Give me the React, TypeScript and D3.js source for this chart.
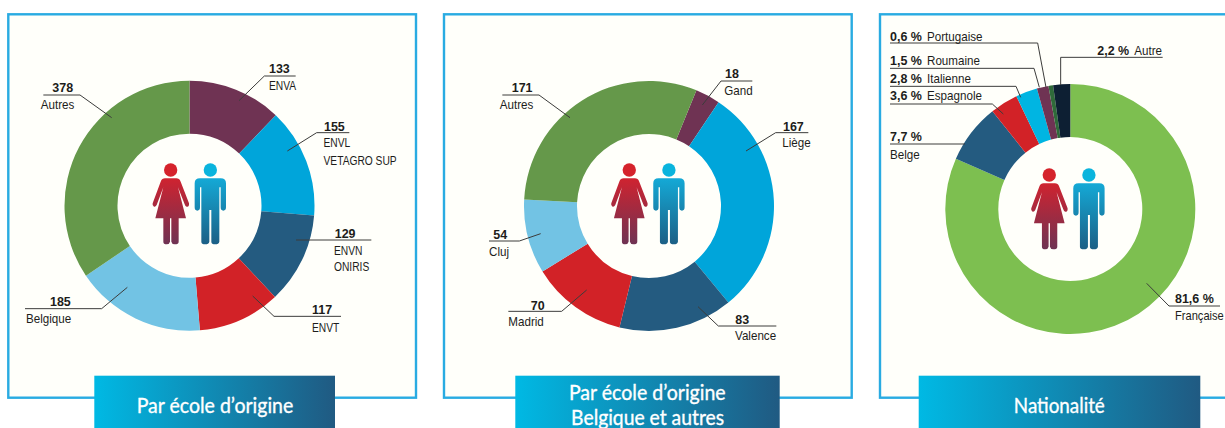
import React from "react";
import * as d3 from "d3";

// ---- data ----
const schoolNames = ["ENVA", "ENVL\nVETAGRO SUP", "ENVN\nONIRIS", "ENVT", "Belgique", "Autres"];
const schoolValues = [133, 155, 129, 117, 185, 378];

const belgiumNames = ["Gand", "Liège", "Valence", "Madrid", "Cluj", "Autres"];
const belgiumValues = [18, 167, 83, 70, 54, 171];

const nationalityNames = ["Française", "Belge", "Espagnole", "Italienne", "Roumaine", "Portugaise", "Autre"];
const nationalityValues = [81.6, 7.7, 3.6, 2.8, 1.5, 0.6, 2.2];

// ---- styles ----
const schoolColors = ["#6f3353", "#00a5da", "#245b80", "#d22227", "#72c3e4", "#65984a"];
const belgiumColors = ["#6f3353", "#00a5da", "#245b80", "#d22227", "#72c3e4", "#65984a"];
const nationalityColors = ["#7dbf50", "#245b80", "#d22227", "#00b5e2", "#6f3353", "#2f6a3a", "#0d1f33"];

const FRAME = "#29abe2";
const PANEL_BG = "#fffffa";
const INK = "#1d1d1b";
const LABEL_FONT = "'Liberation Sans', Arial, sans-serif";
const NUM_FONT = "'Liberation Sans', Arial, sans-serif";
const TITLE_FONT = "Lato, 'Open Sans', sans-serif";
const NARROW_CAPS = 0.82;
const NARROW_MIXED = 0.93;

type Callout = {
  leader: [number, number][];
  numX: number; numY: number;
  nameX: number; nameY: number; lineH?: number; nameScale?: number;
};

const z = (ox: number, pts: [number, number][]): [number, number][] =>
  pts.map(([x, y]) => [ox + x / 3, y / 3]);

const schoolCallouts: Callout[] = [
  { leader: z(0, [[887, 228], [793, 228], [717, 302]]), numX: 269, numY: 73.3, nameX: 269, nameY: 90 },
  { leader: z(0, [[1048, 398], [950, 398], [862, 453]]), numX: 324, numY: 130.7, nameX: 323.5, nameY: 147.3, lineH: 17.7 },
  { leader: z(0, [[1114, 720], [888, 720]]), numX: 334.7, numY: 238, nameX: 334, nameY: 255, lineH: 16.3 },
  { leader: z(0, [[1023, 949], [822, 949], [758, 888]]), numX: 312, numY: 313.7, nameX: 312, nameY: 331.7 },
  { leader: z(0, [[75, 926], [305, 926], [382, 862]]), numX: 50, numY: 305.7, nameX: 26, nameY: 323 },
  { leader: z(0, [[130, 285], [240, 285], [335, 353]]), numX: 52.3, numY: 92.3, nameX: 40.7, nameY: 109 },
];

const belgiumCallouts: Callout[] = [
  { leader: z(440, [[937, 243], [843, 243], [787, 315]]), numX: 725, numY: 78.3, nameX: 724.3, nameY: 95 },
  { leader: z(440, [[1105, 398], [1007, 398], [918, 453]]), numX: 783, numY: 130.7, nameX: 782.3, nameY: 147.3 },
  { leader: z(440, [[1009, 978], [835, 978], [774, 920]]), numX: 735.3, numY: 323.7, nameX: 735, nameY: 340 },
  { leader: z(440, [[205, 934], [365, 934], [440, 870]]), numX: 530.7, numY: 309.7, nameX: 508.3, nameY: 326 },
  { leader: z(440, [[147, 723], [238, 723], [302, 701]]), numX: 493.3, numY: 239.3, nameX: 489, nameY: 256 },
  { leader: z(440, [[187, 285], [297, 285], [390, 353]]), numX: 511.7, numY: 92.3, nameX: 499.7, nameY: 109 },
];

const nationalityCallouts: Callout[] = [
  { leader: z(870, [[1050, 918], [897, 918], [830, 850]]), numX: 1175, numY: 303.3, nameX: 1175, nameY: 320, nameScale: 0.89 },
  { leader: z(870, [[60, 432], [285, 432]]), numX: 890, numY: 141, nameX: 890, nameY: 158.7 },
  { leader: z(870, [[60, 312], [367, 312], [400, 342]]), numX: 890, numY: 100, nameX: 927, nameY: 100 },
  { leader: z(870, [[60, 259], [438, 259], [452, 292]]), numX: 890, numY: 83.3, nameX: 927, nameY: 83.3 },
  { leader: z(870, [[60, 205], [492, 205], [508, 262]]), numX: 890, numY: 65.3, nameX: 927, nameY: 65.3 },
  { leader: z(870, [[60, 129], [503, 129], [528, 262]]), numX: 890, numY: 41, nameX: 927, nameY: 41 },
  { leader: z(870, [[878, 172], [572, 172], [572, 255]]), numX: 1097.3, numY: 55, nameX: 1134.3, nameY: 55 },
];

type PanelSpec = {
  frame: [number, number, number, number];
  bar: [number, number];
  center: [number, number];
  startDeg: number;
  names: string[];
  values: number[];
  colors: string[];
  callouts: Callout[];
  suffix: string;
  people: [number, number];
  title: { text: string; x: number; y: number; w: number }[];
};

const panels: PanelSpec[] = [
  {
    frame: [8.3, 14.3, 416, 397.7], bar: [94.3, 335], center: [189.5, 205.7], startDeg: 0,
    names: schoolNames, values: schoolValues, colors: schoolColors, callouts: schoolCallouts, suffix: "",
    people: [140, 150],
    title: [{ text: "Par école d’origine", x: 215, y: 412.7, w: 156.7 }],
  },
  {
    frame: [444, 14.3, 851.7, 397.7], bar: [515.3, 779.7], center: [649, 206], startDeg: 22.3,
    names: belgiumNames, values: belgiumValues, colors: belgiumColors, callouts: belgiumCallouts, suffix: "",
    people: [598.6, 150],
    title: [
      { text: "Par école d’origine", x: 647.3, y: 400, w: 156.7 },
      { text: "Belgique et autres", x: 647.6, y: 425, w: 153 },
    ],
  },
  {
    frame: [880, 14.3, 1240, 397.7], bar: [918.7, 1200.3], center: [1070.3, 209], startDeg: 0,
    names: nationalityNames, values: nationalityValues, colors: nationalityColors, callouts: nationalityCallouts, suffix: " %",
    people: [1018.6, 155],
    title: [{ text: "Nationalité", x: 1059.3, y: 412.7, w: 91 }],
  },
];

const OUTER = 125;
const INNER = 72;

const WOMAN =
  "M75 85H109Q118 85 122 95L147 160Q148 172 140 170Q136 170 134 163L114 112L138 205H116V275Q116 283 104 283Q96 283 94 275V205H90V275Q88 283 80 283Q70 283 70 275V205H46L70 112L50 165Q46 172 42 170Q36 168 38 160L62 95Q66 85 75 85Z";
const MAN =
  "M180 85H242Q258 85 258 100V172Q258 182 250 182Q242 182 242 172V112H238V275Q236 283 226 283Q214 283 214 275V180H208V275Q206 283 196 283Q184 283 184 275V112H180V172Q180 182 172 182Q164 182 164 172V100Q164 85 180 85Z";

const fmt = (v: number, suffix: string) =>
  suffix ? `${v.toFixed(1).replace(".", ",")}${suffix}` : String(v);

function Panel({ p }: { p: PanelSpec }) {
  const pie = d3
    .pie<number>()
    .sort(null)
    .startAngle((p.startDeg * Math.PI) / 180)
    .endAngle((p.startDeg * Math.PI) / 180 + 2 * Math.PI);
  const arc = d3.arc<d3.PieArcDatum<number>>().innerRadius(INNER).outerRadius(OUTER);
  const line = d3.line();
  const slices = pie(p.values);
  const [x0, y0, x1, y1] = p.frame;

  return (
    <g>
      <rect x={x0} y={y0} width={x1 - x0} height={y1 - y0} fill={PANEL_BG} stroke={FRAME} strokeWidth={2.4} />
      <g transform={`translate(${p.center[0]},${p.center[1]})`}>
        {slices.map((s, i) => (
          <path key={i} d={arc(s) || ""} fill={p.colors[i]} />
        ))}
      </g>
      <g transform={`translate(${p.people[0]},${p.people[1]}) scale(${1 / 3})`}>
        <circle cx={92} cy={60} r={20} fill="#d5232b" />
        <path d={WOMAN} fill="url(#womanGrad)" />
        <circle cx={211} cy={60} r={20} fill="#0ab4dd" />
        <path d={MAN} fill="url(#manGrad)" />
      </g>
      {p.callouts.map((c, i) => {
        const lines = p.names[i].split("\n");
        return (
          <g key={i}>
            <path d={line(c.leader) || ""} fill="none" stroke="#3c3c3b" strokeWidth={1} />
            <text
              transform={`translate(${c.numX},${c.numY}) scale(0.96,1.04)`}
              fontFamily={NUM_FONT}
              fontWeight={700}
              fontSize={13}
              fill={INK}
            >
              {fmt(p.values[i], p.suffix)}
            </text>
            {lines.map((t, j) => {
              const sx = c.nameScale ?? (t === t.toUpperCase() ? NARROW_CAPS : NARROW_MIXED);
              return (
                <text
                  key={j}
                  transform={`translate(${c.nameX},${c.nameY + j * (c.lineH ?? 0)}) scale(${sx},1.04)`}
                  fontFamily={LABEL_FONT}
                  fontSize={12.5}
                  fill={INK}
                >
                  {t}
                </text>
              );
            })}
          </g>
        );
      })}
      <rect x={p.bar[0]} y={375.7} width={p.bar[1] - p.bar[0]} height={60} fill="url(#barGrad)" />
      {p.title.map((t, i) => (
        <text
          key={i}
          x={t.x}
          y={t.y}
          textAnchor="middle"
          fontFamily={TITLE_FONT}
          fontSize={21}
          fill="#ffffff"
          stroke="#ffffff"
          strokeWidth={0.35}
          textLength={t.w}
          lengthAdjust="spacingAndGlyphs"
        >
          {t.text}
        </text>
      ))}
    </g>
  );
}

export default function App() {
  return (
    <svg
      width={1225}
      height={428}
      viewBox="0 0 1225 428"
      style={{ position: "absolute", left: 0, top: 0, display: "block", background: "#ffffff" }}
    >
      <defs>
        <linearGradient id="barGrad" x1="0" x2="1" y1="0" y2="0">
          <stop offset="0" stopColor="#00b9e4" />
          <stop offset="1" stopColor="#205a82" />
        </linearGradient>
        <linearGradient id="womanGrad" x1="0" x2="0" y1="0" y2="1">
          <stop offset="0" stopColor="#cf2330" />
          <stop offset="1" stopColor="#6f3353" />
        </linearGradient>
        <linearGradient id="manGrad" x1="0" x2="0" y1="0" y2="1">
          <stop offset="0" stopColor="#14a9d6" />
          <stop offset="1" stopColor="#1c5f85" />
        </linearGradient>
      </defs>
      {panels.map((p, i) => (
        <Panel key={i} p={p} />
      ))}
    </svg>
  );
}
